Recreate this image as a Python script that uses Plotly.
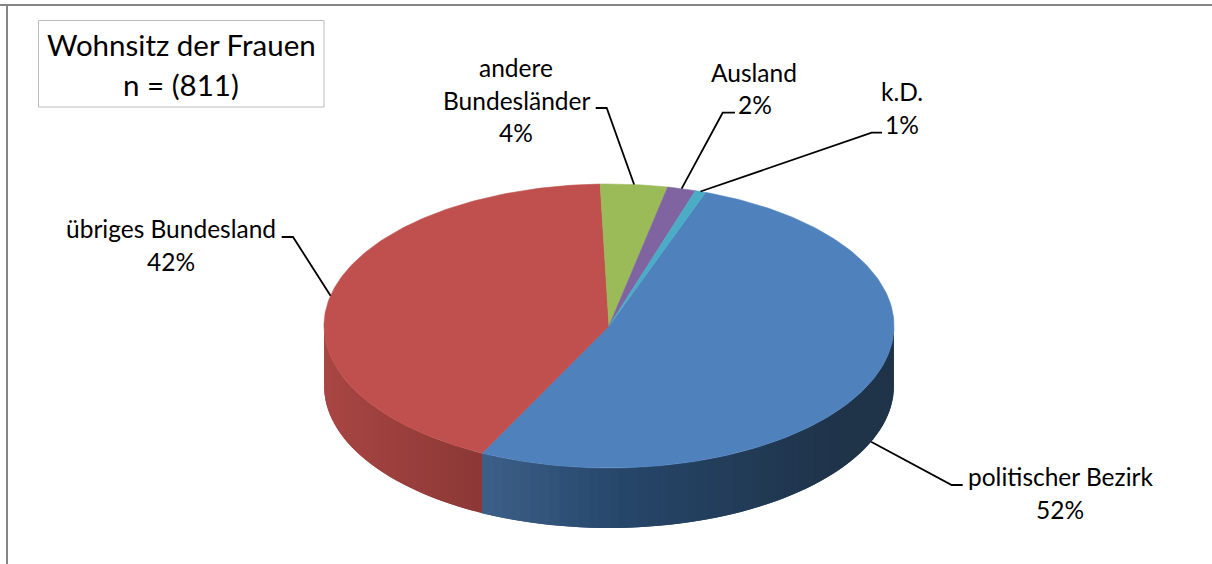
import numpy as np
import plotly.graph_objects as go

# --- data -------------------------------------------------------------
categories = ["politischer Bezirk", "übriges Bundesland", "andere Bundesländer", "Ausland", "k.D."]
shares = [51.9, 42.2, 3.8, 1.6, 0.6]
title_lines = ["Wohnsitz der Frauen", "n = (811)"]

# --- style / layout ---------------------------------------------------
W, H = 1212, 564
FONT = "Lato"
top_colors = ["#4f81bd", "#c0504d", "#9bbb59", "#8064a2", "#4bacc6"]
START = 19.8
CX, CY, RX, RY, DEPTH = 609, 326, 285, 142, 60
side_stops = {
    0: ([482, 620, 840, 895], [(61, 96, 137), (38, 70, 106), (31, 51, 73), (31, 51, 73)]),
    1: ([324, 482], [(168, 70, 67), (140, 56, 54)]),
}
# per label: text-line centres and leader elbow / end
label_pos = [
    dict(lines=[("politischer Bezirk", 1060, 476), ("{p}", 1060, 509)], elbow=(951.7, 485), end=(962.7, 485), side=True),
    dict(lines=[("übriges Bundesland", 170.7, 228), ("{p}", 170.7, 261)], elbow=(293, 237), end=(281.7, 237), side=False),
    dict(lines=[("andere", 516, 67), ("Bundesländer", 516, 100), ("{p}", 516, 132)], elbow=(606.7, 108), end=(595.7, 108), side=False),
    dict(lines=[("Ausland", 754, 72), ("{p}", 755, 104)], elbow=(722.7, 112.7), end=(735, 112.7), side=False),
    dict(lines=[("k.D.", 902, 91), ("{p}", 902, 124)], elbow=(871.7, 132.7), end=(882, 132.7), side=False),
]


def ex(t):
    return CX + RX * np.sin(np.radians(t))


def ey(t):
    return CY - RY * np.cos(np.radians(t))


fracs = np.array(shares) / sum(shares) * 360
starts = START + np.concatenate([[0], np.cumsum(fracs)[:-1]])
ends = starts + fracs

fig = go.Figure()


def poly(xs, ys, color, width=0.6):
    fig.add_trace(go.Scatter(x=xs, y=ys, mode="lines", fill="toself", fillcolor=color,
                             line=dict(color=color, width=width), hoverinfo="skip", showlegend=False))


# sides, visible only on the front half of the ellipse; each band overlaps
# the following one so no seams show between them
for i, (xp, cp) in side_stops.items():
    a, b = max(starts[i], 90), min(ends[i], 270)
    edges = np.arange(a, b, 2.0).tolist() + [b]
    for k, (t0, t1) in enumerate(zip(edges[:-1], edges[1:])):
        t2 = edges[min(k + 2, len(edges) - 1)]
        tt = np.linspace(t0, t2, 5)
        xs, ys = ex(tt), ey(tt)
        mx = ex((t0 + t1) / 2)
        rgb = [int(round(np.interp(mx, xp, [c[j] for c in cp]))) for j in range(3)]
        poly(np.r_[xs, xs[::-1], xs[0]], np.r_[ys, ys[::-1] + DEPTH, ys[0]],
             f"rgb({rgb[0]},{rgb[1]},{rgb[2]})", width=0)

# top face
for s, e, c in zip(starts, ends, top_colors):
    tt = np.linspace(s, e, max(int(e - s), 4) + 1)
    poly(np.r_[CX, ex(tt), CX], np.r_[CY, ey(tt), CY], c)

# labels and leaders
mids = (starts + ends) / 2
annotations = []
for m, share, lp in zip(mids, shares, label_pos):
    y0 = float(ey(m)) + (DEPTH if lp["side"] else 0)
    fig.add_trace(go.Scatter(x=[float(ex(m)), lp["elbow"][0], lp["end"][0]],
                             y=[y0, lp["elbow"][1], lp["end"][1]],
                             mode="lines", line=dict(color="#000000", width=1.8),
                             hoverinfo="skip", showlegend=False))
    for txt, x, y in lp["lines"]:
        annotations.append(dict(x=x, y=y, text=txt.format(p=f"{share:.0f}%"), showarrow=False,
                                xanchor="center", yanchor="middle",
                                font=dict(family=FONT, size=24.5, color="#000000")))

for txt, y in zip(title_lines, [44, 84]):
    annotations.append(dict(x=181, y=y, text=txt, showarrow=False, xanchor="center", yanchor="middle",
                            font=dict(family=FONT, size=29.5, color="#000000")))

shapes = [
    dict(type="line", x0=0, x1=W, y0=5, y1=5, line=dict(color="#868686", width=2)),
    dict(type="line", x0=7, x1=7, y0=5, y1=H, line=dict(color="#868686", width=2)),
    dict(type="rect", x0=38.5, x1=324, y0=20.5, y1=107, line=dict(color="#bcbcbc", width=1), fillcolor="#ffffff"),
]

fig.update_layout(
    width=W, height=H, autosize=False, margin=dict(l=0, r=0, t=0, b=0),
    paper_bgcolor="#ffffff", plot_bgcolor="#ffffff", showlegend=False,
    xaxis=dict(range=[0, W], visible=False, fixedrange=True),
    yaxis=dict(range=[H, 0], visible=False, fixedrange=True),
    annotations=annotations, shapes=shapes,
)
fig.write_html("out.html", config={"displayModeBar": False},
               post_script="document.body.style.margin='0';document.body.style.overflow='hidden';")
